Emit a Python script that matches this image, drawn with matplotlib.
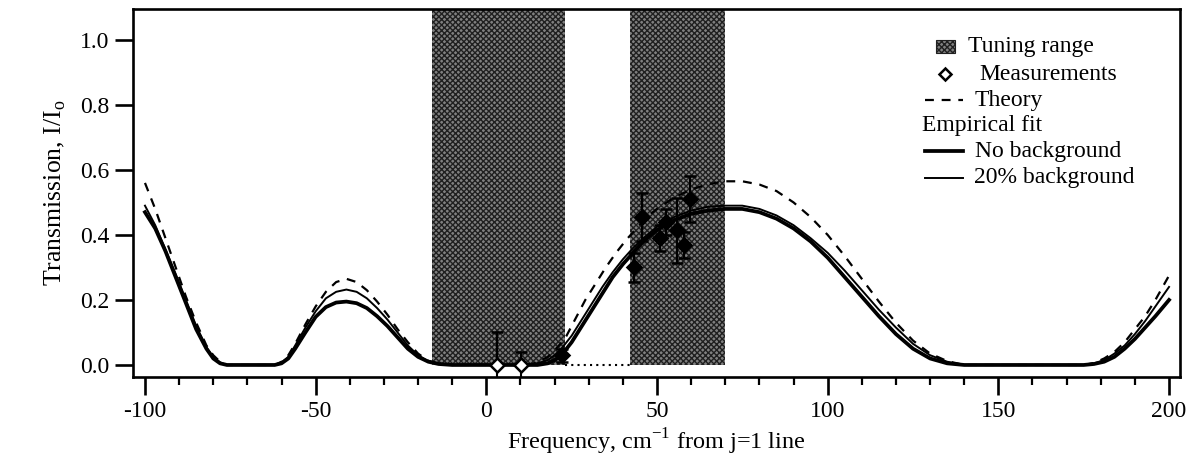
import matplotlib
matplotlib.use("Agg")
import matplotlib.pyplot as plt
from matplotlib.patches import Rectangle
from matplotlib.lines import Line2D
from matplotlib.ticker import MultipleLocator

plt.rcParams['font.family'] = ['Liberation Serif', 'DejaVu Serif']
plt.rcParams['mathtext.fontset'] = 'custom'
plt.rcParams['mathtext.rm'] = 'Liberation Serif'

# ---------------- data ----------------
tuning_ranges = [(-16, 23), (42, 70)]

meas_x = [3.2, 10.2, 22.2, 43.4, 45.6, 51.0, 52.7, 56.0, 58.0, 59.8]
meas_y = [0.0, 0.0, 0.03, 0.30, 0.455, 0.39, 0.44, 0.415, 0.37, 0.51]
meas_err = [0.10, 0.04, 0.02, 0.045, 0.075, 0.04, 0.04, 0.10, 0.04, 0.07]
meas_open = [True, True, False, False, False, False, False, False, False, False]

gap_x = [23, 42]
gap_y = [0.0, 0.0]

nobg_x = [-100, -97, -94, -91, -88, -85, -82, -80, -78, -76, -62, -60, -58, -56, -53, -50,
          -47, -44, -41, -38, -35, -32, -29, -26, -23, -20, -17, -14, -10, 15, 18, 20, 22,
          25, 28, 31, 34, 37, 40, 43, 46, 50, 55, 60, 65, 70, 75, 80, 85, 90, 95, 100, 105,
          110, 115, 120, 125, 130, 135, 140, 175, 178, 181, 184, 187, 190, 193, 196, 200]
nobg_y = [0.47, 0.42, 0.35, 0.27, 0.19, 0.11, 0.05, 0.02, 0.005, 0.0, 0.0, 0.005, 0.02, 0.05,
          0.10, 0.148, 0.178, 0.192, 0.195, 0.19, 0.175, 0.15, 0.12, 0.085, 0.05, 0.025, 0.01,
          0.003, 0.0, 0.0, 0.005, 0.015, 0.03, 0.07, 0.12, 0.17, 0.22, 0.27, 0.31, 0.345,
          0.38, 0.415, 0.445, 0.465, 0.475, 0.48, 0.48, 0.47, 0.45, 0.42, 0.38, 0.33, 0.27,
          0.21, 0.15, 0.095, 0.05, 0.02, 0.005, 0.0, 0.0, 0.003, 0.01, 0.025, 0.05, 0.08,
          0.115, 0.15, 0.2]

bg20_x = [-100, -97, -94, -91, -88, -85, -82, -80, -78, -76, -62, -60, -58, -56, -53, -50,
          -47, -44, -41, -38, -35, -32, -29, -26, -23, -20, -17, -14, -10, 12, 15, 18, 20, 22,
          25, 28, 31, 34, 37, 40, 43, 46, 50, 55, 60, 65, 70, 75, 80, 85, 90, 95, 100, 105,
          110, 115, 120, 125, 130, 135, 140, 175, 178, 181, 184, 187, 190, 193, 196, 200]
bg20_y = [0.49, 0.43, 0.355, 0.28, 0.20, 0.12, 0.055, 0.025, 0.008, 0.0, 0.0, 0.008, 0.025,
          0.06, 0.115, 0.165, 0.205, 0.225, 0.232, 0.225, 0.205, 0.175, 0.14, 0.10, 0.06, 0.03,
          0.012, 0.004, 0.0, 0.0, 0.005, 0.015, 0.03, 0.05, 0.09, 0.14, 0.19, 0.24, 0.285,
          0.325, 0.36, 0.39, 0.425, 0.455, 0.475, 0.487, 0.49, 0.49, 0.48, 0.46, 0.43, 0.39,
          0.345, 0.29, 0.23, 0.17, 0.115, 0.065, 0.03, 0.01, 0.0, 0.0, 0.005, 0.015, 0.035,
          0.06, 0.095, 0.135, 0.18, 0.24]

theo_x = [-100, -97, -94, -91, -88, -85, -82, -80, -78, -76, -62, -60, -58, -56, -53, -50,
          -47, -44, -41, -38, -35, -32, -29, -26, -23, -20, -17, -14, -10, 12, 15, 18, 20, 23,
          26, 29, 32, 35, 38, 41, 44, 47, 50, 55, 60, 65, 70, 75, 80, 85, 90, 95, 100, 105,
          110, 115, 120, 125, 130, 135, 140, 175, 178, 181, 184, 187, 190, 193, 196, 200]
theo_y = [0.56, 0.48, 0.39, 0.30, 0.21, 0.13, 0.06, 0.03, 0.01, 0.0, 0.0, 0.01, 0.03, 0.065,
          0.125, 0.18, 0.225, 0.255, 0.265, 0.255, 0.23, 0.195, 0.155, 0.11, 0.07, 0.035,
          0.013, 0.004, 0.0, 0.0, 0.008, 0.025, 0.045, 0.08, 0.14, 0.20, 0.25, 0.30, 0.345,
          0.385, 0.42, 0.455, 0.48, 0.515, 0.54, 0.556, 0.565, 0.565, 0.555, 0.535, 0.50,
          0.455, 0.40, 0.335, 0.265, 0.195, 0.13, 0.075, 0.035, 0.012, 0.0, 0.0, 0.006, 0.02,
          0.04, 0.07, 0.11, 0.15, 0.20, 0.275]

x_ticks = [-100, -50, 0, 50, 100, 150, 200]
y_ticks = [0.0, 0.2, 0.4, 0.6, 0.8, 1.0]

# ---------------- figure ----------------
fig = plt.figure(figsize=(11.92, 4.66), dpi=100)
ax = fig.add_axes([0.1116, 0.191, 0.8783, 0.7897])

for (a, b) in tuning_ranges:
    ax.add_patch(Rectangle((a, 0), b - a, 1.2, facecolor='#808080', edgecolor='#202020',
                           hatch='xxxxxx', linewidth=0, zorder=1))

ax.plot(gap_x, gap_y, color='black', linestyle=(0, (1, 2)), linewidth=1.5, zorder=2)
ax.plot(theo_x, theo_y, color='black', linestyle=(0, (4, 3.5)), linewidth=1.6, zorder=3)
ax.plot(bg20_x, bg20_y, color='black', linewidth=1.4, zorder=3)
ax.plot(nobg_x, nobg_y, color='black', linewidth=2.7, zorder=3)

for xv, yv, ev, op in zip(meas_x, meas_y, meas_err, meas_open):
    ax.errorbar([xv], [yv], yerr=[ev], fmt='D', markersize=7,
                markerfacecolor='white' if op else 'black', markeredgecolor='black',
                markeredgewidth=1.8, ecolor='black', elinewidth=1.5, capsize=4,
                capthick=1.5, zorder=4)

ax.set_xlim(-103.5, 203.2)
ax.set_ylim(-0.037, 1.095)
ax.set_xticks(x_ticks)
ax.set_xticklabels([str(v) for v in x_ticks])
ax.xaxis.set_minor_locator(MultipleLocator(10))
ax.set_yticks(y_ticks)
ax.set_yticklabels([f"{v:.1f}" for v in y_ticks])

for s in ax.spines.values():
    s.set_linewidth(1.9)
ax.tick_params(axis='both', which='major', direction='out', length=13, width=1.9,
               labelsize=17, pad=4)
ax.tick_params(axis='x', which='minor', direction='out', length=6, width=1.6)

ax.set_xlabel('Frequency, cm$^{-1}$ from j=1 line', fontsize=17.5, labelpad=4)
ax.set_ylabel('Transmission, I/I$_{\\mathrm{o}}$', fontsize=18.5, labelpad=9)

# ---------------- legend (manual) ----------------
tr = ax.transAxes
fs = 17
hx0, hx1 = 0.756, 0.793
tx = 0.798
rows = [0.898, 0.823, 0.752, 0.684, 0.614, 0.542]
ax.add_patch(Rectangle((0.767, rows[0] - 0.018), 0.018, 0.036, transform=tr,
                       facecolor='#808080', edgecolor='#202020', hatch='xxxxxx',
                       linewidth=0.8, zorder=5))
ax.text(tx, rows[0], 'Tuning range', transform=tr, fontsize=fs, va='center', ha='left')
ax.add_line(Line2D([0.776], [rows[1]], transform=tr, marker='D', markersize=6,
                   markerfacecolor='white', markeredgecolor='black', markeredgewidth=1.8))
ax.text(tx + 0.01, rows[1], 'Measurements', transform=tr, fontsize=fs, va='center', ha='left')
ax.add_line(Line2D([hx0, hx1], [rows[2], rows[2]], transform=tr, color='black',
                   linestyle=(0, (4, 3.5)), linewidth=1.6))
ax.text(tx + 0.006, rows[2], 'Theory', transform=tr, fontsize=fs, va='center', ha='left')
ax.text(0.754, rows[3], 'Empirical fit', transform=tr, fontsize=fs, va='center', ha='left')
ax.add_line(Line2D([hx0, hx1], [rows[4], rows[4]], transform=tr, color='black',
                   linewidth=2.7))
ax.text(tx + 0.006, rows[4], 'No background', transform=tr, fontsize=fs, va='center', ha='left')
ax.add_line(Line2D([hx0, hx1], [rows[5], rows[5]], transform=tr, color='black',
                   linewidth=1.4))
ax.text(tx + 0.005, rows[5], '20% background', transform=tr, fontsize=fs, va='center', ha='left')

fig.savefig('out.png', dpi=100)
